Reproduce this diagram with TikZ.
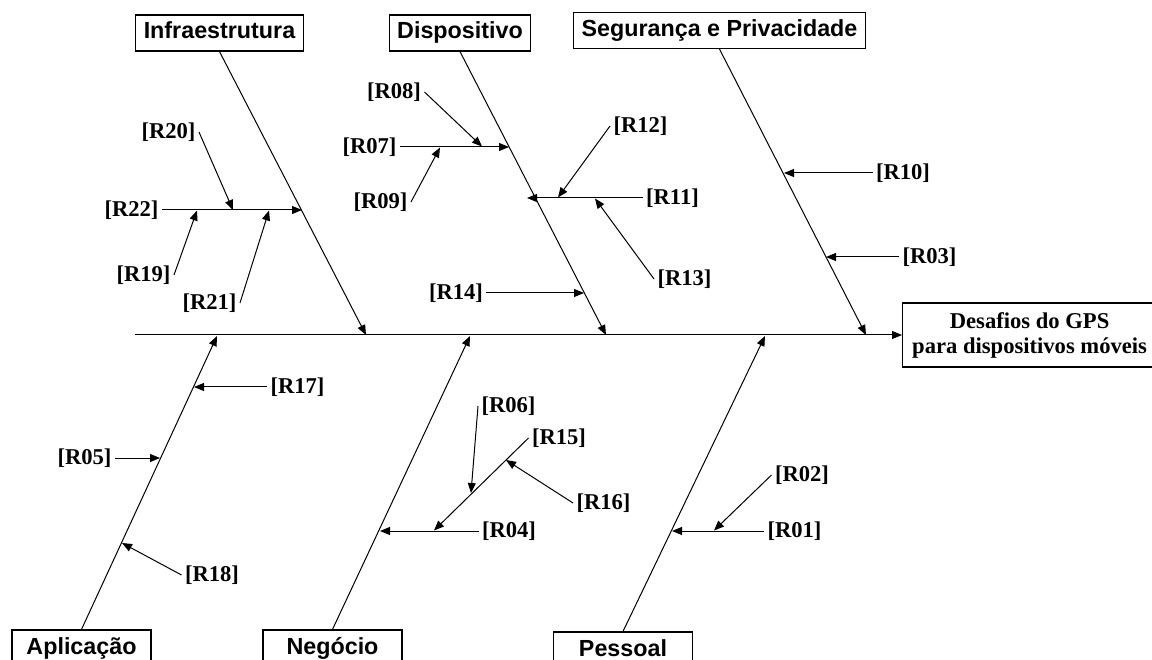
\documentclass[tikz,border=0pt]{standalone}
\usepackage{fontspec}
\setmainfont{Liberation Serif}
\setsansfont{Liberation Sans}
\usetikzlibrary{arrows.meta}

\begin{document}
\begin{tikzpicture}[x=1pt,y=-1pt,line width=1pt,
  tip/.style={-{Triangle[length=10pt,width=8pt]}},
  catbox/.style={draw,line width=1.2pt,fill=white,
    font=\sffamily\bfseries\fontsize{23.3}{28}\selectfont,
    inner xsep=8pt,inner ysep=0pt,minimum height=36pt,
    text height=17pt,text depth=5pt},
  lowbox/.style={catbox,minimum width=139pt},
  cause/.style={font=\bfseries\fontsize{22.6}{27}\selectfont,inner sep=3pt}]

\useasboundingbox (0,0) rectangle (1152,660);
\clip (0,0) rectangle (1152,660);

% effect box and spine
\node[draw,line width=1.2pt,anchor=west,align=center,minimum width=254pt,
  minimum height=64pt,inner sep=0pt,
  font=\bfseries\fontsize{22.6}{25}\selectfont] (effect) at (902,335)
  {Desafios do GPS\\para dispositivos móveis};
\coordinate (spine) at (135,335);
\draw[tip] (spine) -- (effect.west);

% category boxes
\node[catbox] (infra) at (219.5,33) {Infraestrutura};
\node[catbox] (disp)  at (460,33)   {Dispositivo};
\node[catbox] (seg)   at (719.5,30.5) {Segurança e Privacidade};
\node[lowbox] (aplic) at (81.5,648) {Aplicação};
\node[lowbox] (neg)   at (332.5,648) {Negócio};
\node[lowbox] (pess)  at (623,650)  {Pessoal};

% bone tips on the spine
\coordinate (t-infra) at (366,335);
\coordinate (t-disp)  at (606,335);
\coordinate (t-seg)   at (866,335);
\coordinate (t-aplic) at (217,336);
\coordinate (t-neg)   at (470,336);
\coordinate (t-pess)  at (765,336);

\draw[tip] (infra.south) -- (t-infra);
\draw[tip] (disp.south)  -- (t-disp);
\draw[tip] (seg.south)   -- (t-seg);
\draw[tip] (aplic.north) -- (t-aplic);
\draw[tip] (neg.north)   -- (t-neg);
\draw[tip] (pess.north)  -- (t-pess);

% cause labels
\node[cause] (r20) at (168.5,132) {[R20]};
\node[cause] (r22) at (131.5,210) {[R22]};
\node[cause] (r19) at (143.5,275) {[R19]};
\node[cause] (r21) at (209.5,303) {[R21]};
\node[cause] (r08) at (394,92)    {[R08]};
\node[cause] (r07) at (369.5,147) {[R07]};
\node[cause] (r09) at (380.5,202) {[R09]};
\node[cause] (r12) at (640.5,126) {[R12]};
\node[cause] (r11) at (672.5,198) {[R11]};
\node[cause] (r13) at (684.5,279) {[R13]};
\node[cause] (r14) at (456,293)   {[R14]};
\node[cause] (r10) at (903,173)   {[R10]};
\node[cause] (r03) at (929.5,257) {[R03]};
\node[cause] (r17) at (297.5,387) {[R17]};
\node[cause] (r05) at (84.5,458)  {[R05]};
\node[cause] (r18) at (212,575)   {[R18]};
\node[cause] (r06) at (508.5,406) {[R06]};
\node[cause] (r15) at (559,438)   {[R15]};
\node[cause] (r16) at (603.5,503) {[R16]};
\node[cause] (r04) at (509,531)   {[R04]};
\node[cause] (r02) at (802,475)   {[R02]};
\node[cause] (r01) at (794.5,531) {[R01]};

% Infraestrutura causes
\coordinate (i22) at (302,210);
\coordinate (i20) at (233,210);
\coordinate (i19) at (197,210.5);
\coordinate (i21) at (269,210.5);
\draw[tip] (r22.east) -- (i22);
\draw[tip] (r20.east) -- (i20);
\draw[tip] (r19.east) -- (i19);
\draw[tip] (r21.east) -- (i21);

% Dispositivo causes
\coordinate (d07) at (509,147);
\coordinate (d08) at (482,146.5);
\coordinate (d09) at (440,147.5);
\coordinate (d11) at (527,198);
\coordinate (d12) at (558,197.5);
\coordinate (d13) at (595,198.5);
\coordinate (d14) at (584,293);
\draw[tip] (r07.east) -- (d07);
\draw[tip] (r08.east) -- (d08);
\draw[tip] (r09.east) -- (d09);
\draw[tip] (r11.west) -- (d11);
\draw[tip] (r12.west) -- (d12);
\draw[tip] (r13.west) -- (d13);
\draw[tip] (r14.east) -- (d14);

% Segurança e Privacidade causes
\coordinate (s10) at (784,173);
\coordinate (s03) at (826,257);
\draw[tip] (r10.west) -- (s10);
\draw[tip] (r03.west) -- (s03);

% Aplicação causes
\coordinate (a17) at (194,387);
\coordinate (a05) at (160,458);
\coordinate (a18) at (122,543);
\draw[tip] (r17.west) -- (a17);
\draw[tip] (r05.east) -- (a05);
\draw[tip] (r18.west) -- (a18);

% Negócio causes
\coordinate (n04) at (380,531);
\coordinate (n15) at (434,530.5);
\coordinate (n06) at (471,493);
\coordinate (n16) at (506,460);
\draw[tip] (r04.west) -- (n04);
\draw[tip] (r15.west) -- (n15);
\draw[tip] (r06.west) -- (n06);
\draw[tip] (r16.west) -- (n16);

% Pessoal causes
\coordinate (p01) at (672,531);
\coordinate (p02) at (714,530.5);
\draw[tip] (r01.west) -- (p01);
\draw[tip] (r02.west) -- (p02);

\end{tikzpicture}
\end{document}
